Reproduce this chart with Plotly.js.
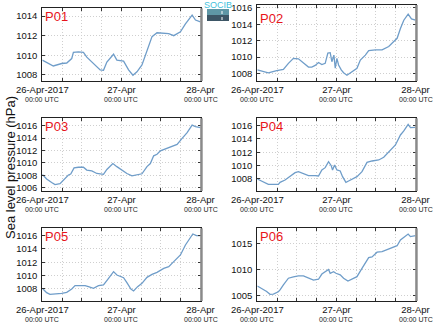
<!DOCTYPE html>
<html><head><meta charset="utf-8">
<script src="https://cdn.plot.ly/plotly-3.0.1.min.js"></script>
<style>html,body{margin:0;padding:0;background:#fff}#chart{width:435px;height:327px}</style>
</head><body><div id="chart"></div>
<script>
const stations = ["P01", "P02", "P03", "P04", "P05", "P06"];

const hoursP01 = [0, 3.35, 5.89, 7.41, 8.93, 9.44, 10.96, 12.48, 13.5, 15.02, 17.56, 18.57, 19.59, 21.62, 22.63, 24.66, 26.18, 27.5, 28.72, 30.24, 31.76, 33.29, 34.81, 36.84, 38.36, 39.88, 41.91, 43.43, 45.46, 46.48, 48];
const pressP01 = [1009.5, 1008.9, 1009.15, 1009.2, 1009.66, 1010.3, 1010.35, 1010.3, 1009.8, 1009.3, 1008.5, 1008.45, 1009.3, 1010.1, 1009.5, 1009.4, 1008.5, 1007.95, 1008.3, 1009.0, 1010.5, 1011.9, 1012.3, 1012.2, 1012.2, 1012.0, 1012.4, 1013.2, 1014.1, 1013.6, 1013.4];

const hoursP02 = [0, 3.35, 5.89, 6.9, 7.92, 9.44, 10.96, 12.48, 14.0, 15.53, 16.54, 17.56, 18.57, 19.59, 20.6, 21.41, 22.12, 22.63, 23.24, 23.65, 24.15, 24.66, 25.47, 26.18, 27.2, 28.72, 30.24, 31.26, 32.78, 33.8, 35.83, 37.86, 39.88, 41.41, 42.42, 43.43, 44.45, 45.77, 46.78, 48];
const pressP02 = [1008.45, 1008.1, 1008.35, 1008.45, 1008.5, 1009.25, 1009.85, 1009.8, 1009.25, 1008.8, 1008.8, 1009.0, 1009.35, 1009.1, 1009.25, 1010.5, 1010.55, 1009.45, 1010.25, 1008.65, 1009.85, 1009.05, 1008.45, 1008.1, 1007.8, 1008.25, 1008.65, 1009.65, 1010.25, 1010.8, 1010.9, 1010.9, 1011.3, 1011.9, 1012.3, 1013.5, 1014.5, 1015.25, 1014.65, 1014.5];

const hoursP03 = [0, 1.32, 2.84, 3.86, 5.38, 6.9, 7.92, 8.63, 9.64, 10.96, 12.48, 13.5, 15.02, 16.54, 18.57, 19.59, 21.41, 22.63, 24.15, 25.67, 27.2, 28.72, 30.24, 31.76, 32.78, 33.79, 34.81, 35.82, 37.85, 38.87, 39.88, 40.9, 42.42, 43.94, 45.46, 46.48, 48];
const pressP03 = [1008.15, 1007.4, 1006.85, 1006.5, 1006.65, 1007.4, 1008.05, 1008.2, 1009.2, 1009.3, 1009.3, 1008.85, 1008.7, 1008.3, 1008.15, 1008.95, 1009.9, 1009.4, 1008.85, 1008.3, 1007.9, 1008.05, 1008.25, 1009.4, 1009.9, 1011.15, 1011.4, 1011.95, 1012.35, 1012.6, 1012.7, 1013.0, 1013.95, 1014.9, 1016.1, 1015.85, 1015.7];

const hoursP04 = [0, 1.32, 3.35, 6.39, 6.9, 8.42, 9.94, 11.47, 12.48, 14.0, 15.53, 17.56, 18.57, 19.59, 20.6, 21.62, 22.43, 22.83, 23.44, 24.15, 25.16, 25.87, 26.89, 27.7, 28.72, 30.24, 31.76, 33.29, 34.81, 36.84, 38.36, 39.88, 41.91, 43.43, 44.45, 45.77, 46.48, 48];
const pressP04 = [1008.0, 1007.7, 1007.2, 1007.2, 1007.5, 1007.85, 1008.45, 1008.95, 1009.1, 1008.85, 1008.5, 1008.5, 1008.45, 1009.35, 1009.7, 1010.6, 1010.0, 1009.35, 1010.1, 1009.35, 1009.2, 1008.35, 1007.5, 1007.7, 1008.0, 1008.35, 1009.1, 1010.5, 1010.7, 1010.85, 1011.25, 1012.0, 1013.1, 1014.6, 1015.2, 1016.2, 1015.7, 1015.75];

const hoursP05 = [0, 1.32, 2.33, 4.36, 5.89, 7.41, 8.93, 9.94, 11.47, 12.99, 14.0, 15.53, 17.05, 18.57, 20.1, 21.62, 22.63, 23.65, 24.66, 25.67, 26.89, 27.7, 28.92, 30.24, 31.76, 33.29, 34.81, 36.84, 38.36, 39.88, 41.91, 43.43, 44.45, 45.67, 46.78, 48];
const pressP05 = [1008.1, 1007.45, 1007.2, 1007.25, 1007.35, 1007.5, 1008.0, 1008.5, 1008.45, 1008.5, 1008.35, 1008.1, 1008.5, 1008.6, 1009.6, 1010.6, 1010.1, 1009.85, 1009.7, 1008.95, 1008.0, 1007.7, 1008.35, 1008.85, 1009.75, 1010.2, 1010.5, 1011.1, 1011.35, 1012.1, 1013.1, 1014.6, 1015.35, 1016.25, 1016.0, 1016.0];

const hoursP06 = [0, 1.32, 2.84, 3.86, 4.87, 6.39, 6.9, 7.92, 9.44, 10.96, 12.48, 14.0, 15.53, 17.05, 18.57, 19.59, 21.62, 22.12, 23.14, 23.85, 25.16, 26.18, 27.5, 28.72, 30.24, 31.76, 33.79, 34.81, 36.33, 37.85, 39.37, 40.9, 42.42, 43.43, 44.45, 45.77, 46.48, 48];
const pressP06 = [1006.85, 1006.4, 1005.8, 1005.25, 1005.3, 1005.75, 1006.1, 1007.05, 1008.35, 1008.6, 1008.8, 1008.8, 1008.45, 1008.0, 1008.15, 1009.15, 1010.05, 1009.3, 1009.6, 1009.3, 1009.0, 1008.35, 1007.8, 1008.2, 1008.65, 1010.25, 1012.3, 1012.45, 1013.35, 1013.45, 1013.8, 1014.1, 1014.6, 1015.7, 1016.15, 1016.85, 1016.35, 1016.55];

const tickHours = [0, 24, 48];
const tickDates = ["26-Apr-2017", "27-Apr", "28-Apr"];
const tickTimes = ["00:00 UTC", "00:00 UTC", "00:00 UTC"];
const yTitle = "Sea level pressure (hPa)";

const hoursAll = [hoursP01, hoursP02, hoursP03, hoursP04, hoursP05, hoursP06];
const pressAll = [pressP01, pressP02, pressP03, pressP04, pressP05, pressP06];

// layout (pixels)
const W = 435, H = 327;
const colX = [[42.3, 200.5], [257.3, 415.5]];
const rowY = [[8.3, 81], [5, 81], [118.3, 191], [118.3, 191], [228.3, 301], [228.3, 301]];
const yRanges = [[1007.36, 1014.8], [1007.1, 1016.35], [1005.47, 1017.2], [1006.2, 1017.1], [1006.2, 1017.1], [1003.97, 1017.95]];
const yDticks = [2, 2, 2, 2, 2, 5];

const FONT = "Liberation Sans, Arial, sans-serif";
const gridc = "#cfcfcf";
const gdash = "1px,2px";

const data = [];
const layout = {
  width: W, height: H,
  margin: {l: 0, r: 0, t: 0, b: 0},
  paper_bgcolor: "#fff", plot_bgcolor: "#fff",
  showlegend: false,
  font: {family: FONT, color: "#222", size: 9},
  shapes: [], annotations: []
};

stations.forEach((name, i) => {
  const n = i + 1;
  const sx = n === 1 ? "" : String(n);
  const col = i % 2;
  data.push({
    type: "scatter", mode: "lines",
    x: hoursAll[i], y: pressAll[i],
    xaxis: "x" + sx, yaxis: "y" + sx,
    line: {color: "#6f9dc9", width: 1.3},
    hoverinfo: "skip"
  });
  layout["xaxis" + sx] = {
    domain: [colX[col][0] / W, colX[col][1] / W],
    anchor: "y" + sx,
    range: [0, 48],
    tickmode: "array", tickvals: tickHours, ticktext: tickDates,
    tickfont: {family: FONT, size: 9.5, color: "#111"},
    ticks: "inside", ticklen: 3, tickcolor: "#333",
    showgrid: true, gridcolor: gridc, griddash: gdash, gridwidth: 1,
    minor: {tickmode: "linear", tick0: 0, dtick: 6, showgrid: true, gridcolor: gridc, griddash: gdash, gridwidth: 1, ticks: "inside", ticklen: 3, tickcolor: "#333"},
    showline: true, linecolor: "#222", linewidth: 1, mirror: "allticks",
    zeroline: false, fixedrange: true
  };
  layout["yaxis" + sx] = {
    domain: [1 - rowY[i][1] / H, 1 - rowY[i][0] / H],
    anchor: "x" + sx,
    range: yRanges[i], dtick: yDticks[i], tick0: 1000,
    tickfont: {family: FONT, size: 9.5, color: "#111"},
    ticks: "inside", ticklen: 3, tickcolor: "#333",
    showgrid: true, gridcolor: gridc, griddash: gdash, gridwidth: 1,
    showline: true, linecolor: "#222", linewidth: 1, mirror: "allticks",
    zeroline: false, fixedrange: true, ticklabelstandoff: 2
  };
  layout.shapes.push({
    type: "line", xref: "x" + sx + " domain", yref: "y" + sx + " domain",
    x0: 1.006, x1: 1.006, y0: 0, y1: 1, line: {color: "#8a8a8a", width: 2.5}
  });
  layout.annotations.push({
    text: name, showarrow: false,
    xref: "x" + sx + " domain", yref: "y" + sx + " domain",
    x: 0, y: 1, xanchor: "left", yanchor: "top", xshift: 1, yshift: (n === 2 ? -4 : 1),
    font: {family: FONT, size: 13, color: "#e8141b"}
  });
  tickHours.forEach((h, k) => {
    layout.annotations.push({
      text: tickTimes[k], showarrow: false,
      xref: "x" + sx, yref: "y" + sx + " domain",
      x: h, y: 0, xanchor: "center", yanchor: "middle", yshift: -18.5,
      font: {family: FONT, size: 7, color: "#222"}
    });
  });
});

// y axis title
layout.annotations.push({
  text: yTitle, showarrow: false, textangle: -90,
  xref: "paper", yref: "paper", x: 10 / W, y: 1 - 168 / H,
  xanchor: "center", yanchor: "middle",
  font: {family: FONT, size: 13, color: "#111"}
});

// logo
layout.shapes.push(
  {type: "rect", xref: "paper", yref: "paper", x0: 207 / W, x1: 229 / W, y0: 1 - 15 / H, y1: 1 - 9 / H, line: {width: 0}, fillcolor: "#5f97a6"},
  {type: "rect", xref: "paper", yref: "paper", x0: 207 / W, x1: 229 / W, y0: 1 - 21 / H, y1: 1 - 15 / H, line: {width: 0}, fillcolor: "#3d5666"},
  {type: "line", xref: "paper", yref: "paper", x0: 222 / W, x1: 222 / W, y0: 1 - 20 / H, y1: 1 - 11 / H, line: {width: 1, color: "#fff", dash: "dot"}}
);
layout.annotations.push({
  text: "SOCIB", showarrow: false, xref: "paper", yref: "paper",
  x: 218 / W, y: 1 - 5 / H, xanchor: "center", yanchor: "middle",
  font: {family: FONT, size: 9, color: "#3fbfdc"}
});

Plotly.newPlot("chart", data, layout, {staticPlot: true, displayModeBar: false});
</script></body></html>
